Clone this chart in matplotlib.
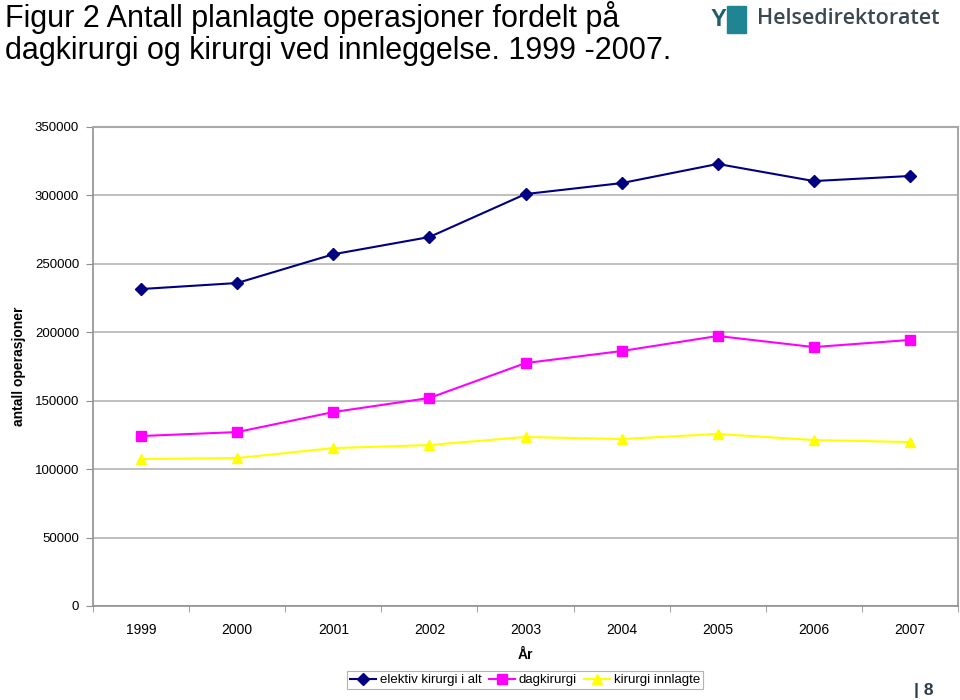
import matplotlib.pyplot as plt
from matplotlib.patches import Rectangle

plt.rcParams['font.family'] = ['Liberation Sans', 'DejaVu Sans']

years = ['1999', '2000', '2001', '2002', '2003', '2004', '2005', '2006', '2007']
elektiv = [231600, 236000, 257000, 269600, 301000, 309000, 323000, 310500, 314200]
dagkirurgi = [124200, 127100, 141700, 152000, 177500, 186300, 197300, 189200, 194400]
innlagte = [107400, 108100, 115400, 117600, 123500, 122000, 125700, 121300, 119800]

fig = plt.figure(figsize=(9.6, 7), dpi=100)
ax = fig.add_axes([93 / 960, 1 - 606 / 700, 865 / 960, 479 / 700])

x = list(range(len(years)))
ax.plot(x, elektiv, color='#000080', marker='D', markersize=6, lw=1.5,
        label='elektiv kirurgi i alt')
ax.plot(x, dagkirurgi, color='#ff00ff', marker='s', markersize=6.5, lw=1.5,
        label='dagkirurgi')
ax.plot(x, innlagte, color='#ffff00', marker='^', markersize=7, lw=1.5,
        label='kirurgi innlagte')

ax.set_xlim(-0.5, len(years) - 0.5)
ax.set_ylim(0, 350000)
ax.set_yticks(range(0, 350001, 50000))
ax.set_yticklabels([str(v) for v in range(0, 350001, 50000)], fontsize=9.5)
ax.yaxis.grid(True, color='#b4b4b4', lw=1.2)
ax.set_axisbelow(True)

ax.set_xticks(x)
ax.set_xticklabels(years, fontsize=10)
ax.set_xticks([i + 0.5 for i in range(-1, len(years))], minor=True)
ax.tick_params(axis='x', which='major', length=0, pad=12)
ax.tick_params(axis='x', which='minor', length=4, color='#909090')
ax.tick_params(axis='y', length=5, color='#909090', pad=5)

for s in ['left', 'bottom']:
    ax.spines[s].set_color('#909090')
    ax.spines[s].set_linewidth(1.2)
for s in ['top', 'right']:
    ax.spines[s].set_color('#a8a8a8')
    ax.spines[s].set_linewidth(1.5)

ax.set_ylabel('antall operasjoner', fontsize=10, fontweight='bold')
ax.yaxis.set_label_coords(-0.078, 0.5)
ax.set_xlabel('År', fontsize=10, fontweight='bold', labelpad=8)

leg = ax.legend(loc='center', bbox_to_anchor=(525 / 960, 1 - 680 / 700),
                bbox_transform=fig.transFigure, ncol=3, fontsize=9.5,
                frameon=True, fancybox=False, edgecolor='#a0a0a0',
                handlelength=2.0, handletextpad=0.3, columnspacing=0.5,
                borderpad=0.25, borderaxespad=0)
leg.get_frame().set_linewidth(0.8)

fig.text(5 / 960, 1 - 1 / 700,
         'Figur 2 Antall planlagte operasjoner fordelt på\n'
         'dagkirurgi og kirurgi ved innleggelse. 1999 -2007.',
         fontsize=22, va='top', ha='left', linespacing=1.1)

# logo
fig.patches.append(Rectangle((727 / 960, 1 - 33 / 700), 19 / 960, 27 / 700,
                             transform=fig.transFigure, color='#1f8592'))
fig.text(711 / 960, 1 - 19 / 700, 'Y', fontsize=17, fontweight='bold',
         color='#1f5f6a', va='center', ha='left')
fig.text(757 / 960, 1 - 19 / 700, 'Helsedirektoratet', fontsize=15.5,
         fontweight='semibold', family=['Open Sans', 'DejaVu Sans'],
         color='#3a4852', va='center', ha='left')

fig.text(914 / 960, 1 - 690 / 700, '| 8', fontsize=12.5, fontweight='bold',
         color='#2b3d48', va='center', ha='left')

fig.savefig('out.png', dpi=100)
